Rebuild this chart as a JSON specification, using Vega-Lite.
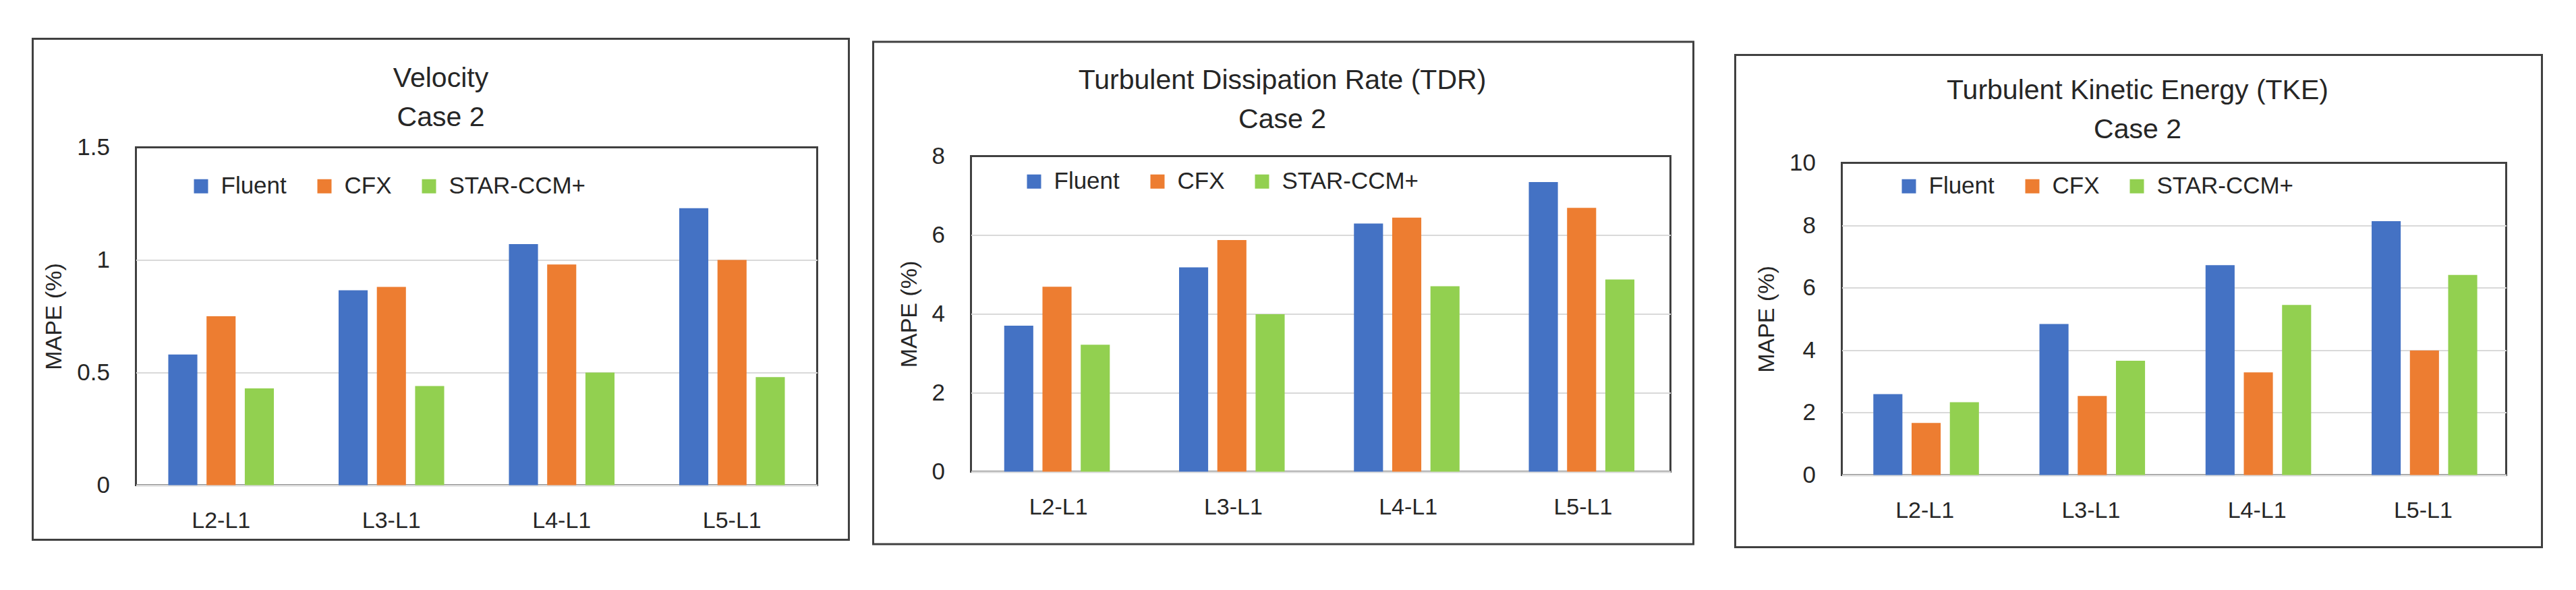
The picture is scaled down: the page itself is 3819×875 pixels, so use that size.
{
  "$schema": "https://vega.github.io/schema/vega-lite/v6.json",
  "padding": {"left": 44.5, "top": 52.5, "right": 0, "bottom": 0},
  "background": "white",
  "data": {"values": [
    {"var": "Velocity", "level": "L2-L1", "solver": "Fluent", "mape": 0.58},
    {"var": "Velocity", "level": "L2-L1", "solver": "CFX", "mape": 0.75},
    {"var": "Velocity", "level": "L2-L1", "solver": "STAR-CCM+", "mape": 0.43},
    {"var": "Velocity", "level": "L3-L1", "solver": "Fluent", "mape": 0.865},
    {"var": "Velocity", "level": "L3-L1", "solver": "CFX", "mape": 0.88},
    {"var": "Velocity", "level": "L3-L1", "solver": "STAR-CCM+", "mape": 0.44},
    {"var": "Velocity", "level": "L4-L1", "solver": "Fluent", "mape": 1.07},
    {"var": "Velocity", "level": "L4-L1", "solver": "CFX", "mape": 0.98},
    {"var": "Velocity", "level": "L4-L1", "solver": "STAR-CCM+", "mape": 0.5},
    {"var": "Velocity", "level": "L5-L1", "solver": "Fluent", "mape": 1.23},
    {"var": "Velocity", "level": "L5-L1", "solver": "CFX", "mape": 1.0},
    {"var": "Velocity", "level": "L5-L1", "solver": "STAR-CCM+", "mape": 0.48},
    {"var": "TDR", "level": "L2-L1", "solver": "Fluent", "mape": 3.7},
    {"var": "TDR", "level": "L2-L1", "solver": "CFX", "mape": 4.69},
    {"var": "TDR", "level": "L2-L1", "solver": "STAR-CCM+", "mape": 3.22},
    {"var": "TDR", "level": "L3-L1", "solver": "Fluent", "mape": 5.18},
    {"var": "TDR", "level": "L3-L1", "solver": "CFX", "mape": 5.87},
    {"var": "TDR", "level": "L3-L1", "solver": "STAR-CCM+", "mape": 3.99},
    {"var": "TDR", "level": "L4-L1", "solver": "Fluent", "mape": 6.29},
    {"var": "TDR", "level": "L4-L1", "solver": "CFX", "mape": 6.44},
    {"var": "TDR", "level": "L4-L1", "solver": "STAR-CCM+", "mape": 4.7},
    {"var": "TDR", "level": "L5-L1", "solver": "Fluent", "mape": 7.34},
    {"var": "TDR", "level": "L5-L1", "solver": "CFX", "mape": 6.69},
    {"var": "TDR", "level": "L5-L1", "solver": "STAR-CCM+", "mape": 4.87},
    {"var": "TKE", "level": "L2-L1", "solver": "Fluent", "mape": 2.59},
    {"var": "TKE", "level": "L2-L1", "solver": "CFX", "mape": 1.67},
    {"var": "TKE", "level": "L2-L1", "solver": "STAR-CCM+", "mape": 2.33},
    {"var": "TKE", "level": "L3-L1", "solver": "Fluent", "mape": 4.84},
    {"var": "TKE", "level": "L3-L1", "solver": "CFX", "mape": 2.53},
    {"var": "TKE", "level": "L3-L1", "solver": "STAR-CCM+", "mape": 3.66},
    {"var": "TKE", "level": "L4-L1", "solver": "Fluent", "mape": 6.72},
    {"var": "TKE", "level": "L4-L1", "solver": "CFX", "mape": 3.29},
    {"var": "TKE", "level": "L4-L1", "solver": "STAR-CCM+", "mape": 5.45},
    {"var": "TKE", "level": "L5-L1", "solver": "Fluent", "mape": 8.13},
    {"var": "TKE", "level": "L5-L1", "solver": "CFX", "mape": 3.99},
    {"var": "TKE", "level": "L5-L1", "solver": "STAR-CCM+", "mape": 6.41}
  ]},
  "hconcat": [
    {
      "vconcat": [
        {"data": {"values": []}, "mark": "point", "width": 10, "height": 1, "view": {"stroke": null, "fill": "white"}},
        {
          "title": {"text": ["Velocity", "Case 2"], "dx": -53, "offset": -140},
          "width": 1010, "height": 501,
          "layer": [
            {
              "transform": [{"filter": "datum.var === 'Velocity'"}],
              "mark": {"type": "bar"},
              "encoding": {
                "x": {"field": "level", "type": "nominal", "title": null, "scale": {"paddingInner": 0.38, "paddingOuter": 0.19}, "axis": {"orient": "bottom", "labelAngle": 0}},
                "xOffset": {"field": "solver", "type": "nominal", "sort": ["Fluent", "CFX", "STAR-CCM+"], "scale": {"paddingInner": 0.24}},
                "y": {"field": "mape", "type": "quantitative", "title": "MAPE (%)", "scale": {"domain": [0, 1.5], "nice": false}, "axis": {"orient": "left", "values": [0, 0.5, 1, 1.5], "format": "~r", "gridColor": {"condition": {"test": "datum.value >= 1.5", "value": "transparent"}, "value": "#d9d9d9"}}},
                "color": {"field": "solver", "type": "nominal", "sort": ["Fluent", "CFX", "STAR-CCM+"], "scale": {"domain": ["Fluent", "CFX", "STAR-CCM+"], "range": ["#4472C4", "#ED7D31", "#92D050"]}, "legend": {"orient": "none", "legendX": 79, "legendY": 40, "direction": "horizontal", "title": null}}
              }
            },
            {
              "data": {"values": [{}]},
              "mark": {"type": "rect", "fill": "transparent", "stroke": "#404040", "strokeWidth": 3},
              "encoding": {
                "x": {"datum": -0.1515, "type": "quantitative", "scale": {"domain": [0, 1], "nice": false, "zero": false}, "axis": null},
                "x2": {"datum": 1.0465},
                "y": {"datum": 1.3214, "type": "quantitative", "scale": {"domain": [0, 1], "nice": false, "zero": false}, "axis": null},
                "y2": {"datum": -0.1617}
              }
            }
          ],
          "resolve": {"scale": {"x": "independent", "y": "independent"}}
        }
      ],
      "spacing": 0,
      "resolve": {"scale": {"color": "independent"}, "legend": {"color": "independent"}}
    },
    {
      "vconcat": [
        {"data": {"values": []}, "mark": "point", "width": 10, "height": 1, "view": {"stroke": null, "fill": "white"}},
        {
          "title": {"text": ["Turbulent Dissipation Rate (TDR)", "Case 2"], "dx": -57, "offset": -143},
          "width": 1037, "height": 468,
          "layer": [
            {
              "transform": [{"filter": "datum.var === 'TDR'"}],
              "mark": {"type": "bar"},
              "encoding": {
                "x": {"field": "level", "type": "nominal", "title": null, "scale": {"paddingInner": 0.38, "paddingOuter": 0.19}, "axis": {"orient": "bottom", "labelAngle": 0}},
                "xOffset": {"field": "solver", "type": "nominal", "sort": ["Fluent", "CFX", "STAR-CCM+"], "scale": {"paddingInner": 0.24}},
                "y": {"field": "mape", "type": "quantitative", "title": "MAPE (%)", "scale": {"domain": [0, 8], "nice": false}, "axis": {"orient": "left", "values": [0, 2, 4, 6, 8], "format": "~r", "gridColor": {"condition": {"test": "datum.value >= 8", "value": "transparent"}, "value": "#d9d9d9"}}},
                "color": {"field": "solver", "type": "nominal", "sort": ["Fluent", "CFX", "STAR-CCM+"], "scale": {"domain": ["Fluent", "CFX", "STAR-CCM+"], "range": ["#4472C4", "#ED7D31", "#92D050"]}, "legend": {"orient": "none", "legendX": 76, "legendY": 20, "direction": "horizontal", "title": null}}
              }
            },
            {
              "data": {"values": [{}]},
              "mark": {"type": "rect", "fill": "transparent", "stroke": "#404040", "strokeWidth": 3},
              "encoding": {
                "x": {"datum": -0.1398, "type": "quantitative", "scale": {"domain": [0, 1], "nice": false, "zero": false}, "axis": null},
                "x2": {"datum": 1.0328},
                "y": {"datum": 1.362, "type": "quantitative", "scale": {"domain": [0, 1], "nice": false, "zero": false}, "axis": null},
                "y2": {"datum": -0.2297}
              }
            },
            {
              "data": {"values": [{}]},
              "mark": {"type": "rect", "opacity": 0},
              "encoding": {
                "x": {"datum": 0.4, "type": "quantitative", "scale": {"domain": [0, 1], "nice": false, "zero": false}, "axis": null},
                "x2": {"datum": 1.0593},
                "y": {"datum": 1.376, "type": "quantitative", "scale": {"domain": [0, 1], "nice": false, "zero": false}, "axis": null},
                "y2": {"datum": 1.3}
              }
            }
          ],
          "resolve": {"scale": {"x": "independent", "y": "independent"}}
        }
      ],
      "spacing": 0,
      "resolve": {"scale": {"color": "independent"}, "legend": {"color": "independent"}}
    },
    {
      "vconcat": [
        {"data": {"values": []}, "mark": "point", "width": 10, "height": 1, "view": {"stroke": null, "fill": "white"}},
        {
          "title": {"text": ["Turbulent Kinetic Energy (TKE)", "Case 2"], "dx": -54, "offset": -158},
          "width": 985, "height": 463,
          "layer": [
            {
              "transform": [{"filter": "datum.var === 'TKE'"}],
              "mark": {"type": "bar"},
              "encoding": {
                "x": {"field": "level", "type": "nominal", "title": null, "scale": {"paddingInner": 0.38, "paddingOuter": 0.19}, "axis": {"orient": "bottom", "labelAngle": 0}},
                "xOffset": {"field": "solver", "type": "nominal", "sort": ["Fluent", "CFX", "STAR-CCM+"], "scale": {"paddingInner": 0.24}},
                "y": {"field": "mape", "type": "quantitative", "title": "MAPE (%)", "scale": {"domain": [0, 10], "nice": false}, "axis": {"orient": "left", "values": [0, 2, 4, 6, 8, 10], "format": "~r", "gridColor": {"condition": {"test": "datum.value >= 10", "value": "transparent"}, "value": "#d9d9d9"}}},
                "color": {"field": "solver", "type": "nominal", "sort": ["Fluent", "CFX", "STAR-CCM+"], "scale": {"domain": ["Fluent", "CFX", "STAR-CCM+"], "range": ["#4472C4", "#ED7D31", "#92D050"]}, "legend": {"orient": "none", "legendX": 82, "legendY": 17, "direction": "horizontal", "title": null}}
              }
            },
            {
              "data": {"values": [{}]},
              "mark": {"type": "rect", "fill": "transparent", "stroke": "#404040", "strokeWidth": 3},
              "encoding": {
                "x": {"datum": -0.1604, "type": "quantitative", "scale": {"domain": [0, 1], "nice": false, "zero": false}, "axis": null},
                "x2": {"datum": 1.0538},
                "y": {"datum": 1.3456, "type": "quantitative", "scale": {"domain": [0, 1], "nice": false, "zero": false}, "axis": null},
                "y2": {"datum": -0.2311}
              }
            },
            {
              "data": {"values": [{}]},
              "mark": {"type": "rect", "opacity": 0},
              "encoding": {
                "x": {"datum": 0.4, "type": "quantitative", "scale": {"domain": [0, 1], "nice": false, "zero": false}, "axis": null},
                "x2": {"datum": 0.5},
                "y": {"datum": 1.4007, "type": "quantitative", "scale": {"domain": [0, 1], "nice": false, "zero": false}, "axis": null},
                "y2": {"datum": 1.3}
              }
            }
          ],
          "resolve": {"scale": {"x": "independent", "y": "independent"}}
        }
      ],
      "spacing": 0,
      "resolve": {"scale": {"color": "independent"}, "legend": {"color": "independent"}}
    }
  ],
  "spacing": 30,
  "resolve": {"scale": {"color": "independent"}, "legend": {"color": "independent"}},
  "config": {
    "font": "Liberation Sans",
    "view": {"stroke": "#404040", "strokeWidth": 3},
    "axis": {
      "labelFont": "Liberation Sans", "titleFont": "Liberation Sans",
      "labelColor": "#262626", "titleColor": "#262626",
      "labelFontSize": 35, "titleFontSize": 34, "titleFontWeight": "normal",
      "ticks": false, "tickSize": 0, "labelPadding": 39, "titlePadding": 16
    },
    "axisY": {"domain": false, "gridWidth": 2},
    "axisX": {"domainColor": "#d9d9d9", "domainWidth": 3, "grid": false, "labelFontSize": 34, "labelPadding": 36},
    "legend": {"labelFont": "Liberation Sans", "labelFontSize": 35, "labelColor": "#262626", "labelLimit": 0, "symbolType": "square", "symbolSize": 441, "symbolStrokeWidth": 0, "labelOffset": 12, "columnPadding": 38, "padding": 0},
    "title": {"font": "Liberation Sans", "fontSize": 41, "fontWeight": "normal", "color": "#262626", "lineHeight": 58, "anchor": "middle", "frame": "group"}
  }
}
